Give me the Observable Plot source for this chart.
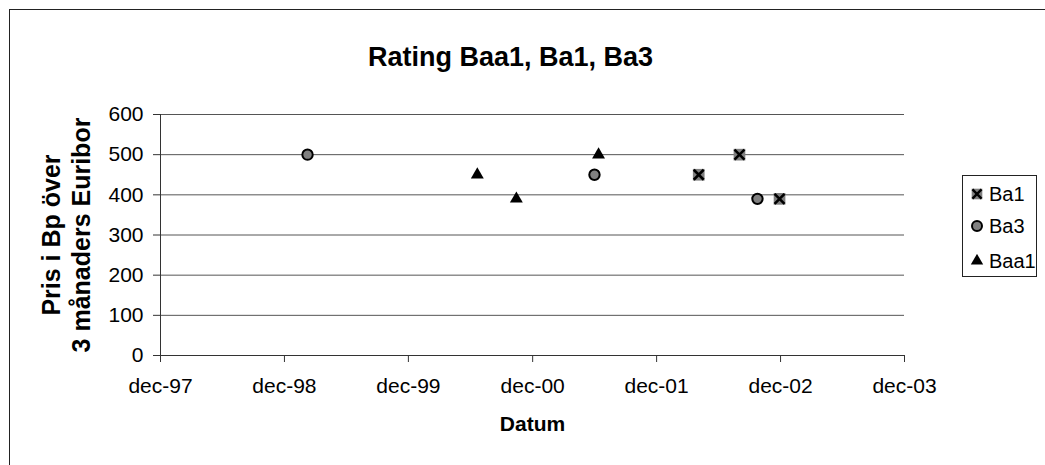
<!DOCTYPE html>
<html><head><meta charset="utf-8">
<script src="https://cdn.jsdelivr.net/npm/d3@7"></script>
<script src="https://cdn.jsdelivr.net/npm/@observablehq/plot@0.6"></script>
<style>
body{margin:0;background:#fff;}
#chart{position:relative;width:1045px;height:465px;overflow:hidden;font-family:'Liberation Sans',Arial,sans-serif;}
#border{position:absolute;left:9px;top:9px;width:1200px;height:600px;border:1.5px solid #222;box-sizing:border-box;pointer-events:none;}
#legend{position:absolute;left:962px;top:175px;width:75px;height:102px;border:1.3px solid #222;box-sizing:border-box;background:#fff;}
.item{position:absolute;left:0;height:24px;display:flex;align-items:center;font-size:20px;color:#000;}
.item svg{margin-left:7px;margin-right:5px;}
</style></head>
<body><div id="chart"><div id="border"></div></div>
<script>
// ---- data ----
const seriesNames = ["Ba1", "Ba3", "Baa1"];
const ba1Dates = ["2002-04-04", "2002-08-02", "2002-11-28"];
const ba1Values = [450, 500, 390];
const ba3Dates = ["1999-02-07", "2001-06-01", "2002-09-24"];
const ba3Values = [500, 450, 390];
const baa1Dates = ["2000-06-21", "2000-10-14", "2001-06-13"];
const baa1Values = [450, 390, 500];
const xTickDates = ["1997-12-01", "1998-12-01", "1999-12-01", "2000-12-01", "2001-12-01", "2002-12-01", "2003-12-01"];
const xTickLabels = ["dec-97", "dec-98", "dec-99", "dec-00", "dec-01", "dec-02", "dec-03"];
const yTicks = [0, 100, 200, 300, 400, 500, 600];
const titleText = "Rating Baa1, Ba1, Ba3";
const xLabel = "Datum";
const yLabel = "Pris i Bp över\n3 månaders Euribor";

const parse = d3.utcParse("%Y-%m-%d");
const mk = (name, dates, vals) => dates.map((d, i) => ({series: name, date: parse(d), value: vals[i]}));
const ba1 = mk("Ba1", ba1Dates, ba1Values);
const ba3 = mk("Ba3", ba3Dates, ba3Values);
const baa1 = mk("Baa1", baa1Dates, baa1Values);
const tickDates = xTickDates.map(parse);

const font = "'Liberation Sans', Arial, sans-serif";
const plot = Plot.plot({
  width: 1045, height: 465,
  marginLeft: 160, marginRight: 141, marginTop: 114, marginBottom: 110,
  style: {fontFamily: font, fontSize: "21px", color: "#000", background: "transparent"},
  x: {type: "utc", domain: [tickDates[0], tickDates[tickDates.length - 1]]},
  y: {domain: [0, 600]},
  marks: [
    Plot.gridY(yTicks.filter(v => v > 0), {stroke: "#555", strokeOpacity: 1}),
    Plot.frame({anchor: "left", stroke: "#333"}),
    Plot.frame({anchor: "bottom", stroke: "#333"}),
    Plot.axisY(yTicks, {tickSize: 7, tickPadding: 10, label: null, stroke: "#333", fontSize: 21}),
    Plot.axisX(tickDates, {tickSize: 7, tickPadding: 16, label: null, stroke: "#333", fontSize: 21,
      tickFormat: d => xTickLabels[tickDates.findIndex(t => +t === +d)]}),
    // Baa1 triangles
    Plot.dot(baa1, {x: "date", y: "value", symbol: "triangle", r: 4.8, fill: "#000", stroke: "none"}),
    // Ba3 circles
    Plot.dot(ba3, {x: "date", y: "value", symbol: "circle", r: 5.2, fill: "#808080", stroke: "#000", strokeWidth: 2}),
    // Ba1 squares with x
    Plot.dot(ba1, {x: "date", y: "value", symbol: "square", r: 6.6, fill: "#808080", stroke: "none"}),
    Plot.dot(ba1, {x: "date", y: "value", symbol: "times", r: 4.6, stroke: "#000", strokeWidth: 2.6}),
    // titles
    Plot.text([titleText], {frameAnchor: "top", dx: -22, dy: -68, fontSize: 27, fontWeight: "bold", fill: "#000"}),
    Plot.text([xLabel], {frameAnchor: "bottom", dy: 75, fontSize: 21, fontWeight: "bold", fill: "#000"}),
    Plot.text([yLabel], {frameAnchor: "left", textAnchor: "middle", dx: -95, rotate: -90, lineHeight: 1.2, fontSize: 25, fontWeight: "bold", fill: "#000"})
  ]
});
document.getElementById("chart").prepend(plot);

// ---- legend ----
const legend = document.createElement("div");
legend.id = "legend";
const legendStyles = {
  Ba1: [{symbol: d3.symbolSquare, r: 6.0, fill: "#808080", stroke: "none", sw: 0}, {symbol: d3.symbolTimes, r: 4.2, fill: "none", stroke: "#000", sw: 2.4}],
  Ba3: [{symbol: d3.symbolCircle, r: 5.0, fill: "#808080", stroke: "#000", sw: 2}],
  Baa1: [{symbol: d3.symbolTriangle, r: 4.6, fill: "#000", stroke: "none", sw: 0}]
};
const legendTops = [6, 38, 73];
seriesNames.forEach((name, i) => {
  const item = document.createElement("div");
  item.className = "item";
  item.style.top = legendTops[i] + "px";
  const svg = d3.create("svg").attr("width", 14).attr("height", 14);
  legendStyles[name].forEach(s => {
    svg.append("path").attr("transform", "translate(7,7)")
      .attr("d", d3.symbol(s.symbol, Math.PI * s.r * s.r)())
      .attr("fill", s.fill).attr("stroke", s.stroke).attr("stroke-width", s.sw);
  });
  item.appendChild(svg.node());
  const span = document.createElement("span");
  span.textContent = name;
  item.appendChild(span);
  legend.appendChild(item);
});
document.getElementById("chart").appendChild(legend);
</script>
</body></html>
